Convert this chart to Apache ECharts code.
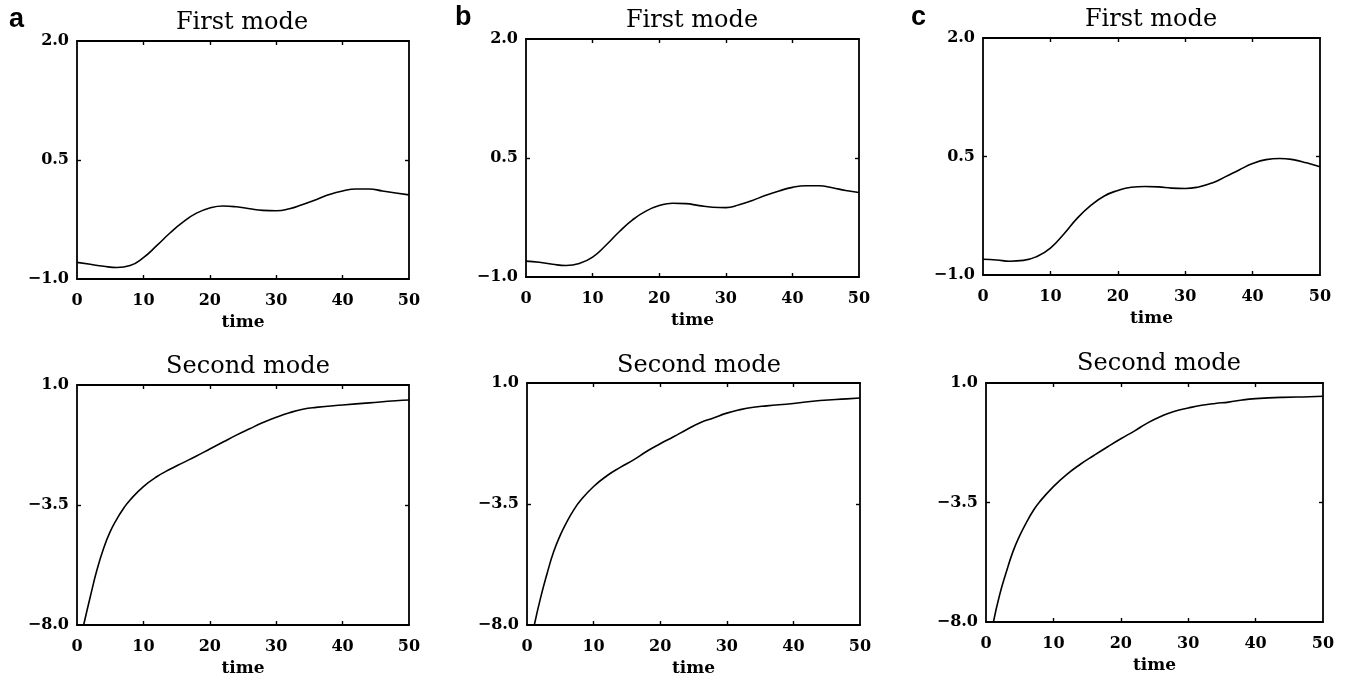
<!DOCTYPE html>
<html>
<head>
<meta charset="utf-8">
<script src="https://cdn.jsdelivr.net/npm/echarts@6/dist/echarts.min.js"></script>
<style>
html,body{margin:0;padding:0;background:#fff;}
#chart{width:1350px;height:682px;}
</style>
</head>
<body>
<div id="chart"></div>
<script>
// ---- data ----
const xTicks = [0, 10, 20, 30, 40, 50];
const firstModeTicks = [-1.0, 0.5, 2.0];
const secondModeTicks = [-8.0, -3.5, 1.0];

const tFirst = [0,2,4,6,8,10,12,14,16,18,20,22,24,26,28,30,32,34,36,38,40,42,44,46,48,50];
const firstA = [-0.79,-0.815,-0.84,-0.855,-0.83,-0.73,-0.58,-0.42,-0.28,-0.17,-0.105,-0.08,-0.09,-0.115,-0.135,-0.14,-0.115,-0.06,0.0,0.065,0.11,0.135,0.135,0.11,0.085,0.06];
const firstB = [-0.80,-0.815,-0.84,-0.855,-0.83,-0.75,-0.60,-0.43,-0.28,-0.17,-0.10,-0.07,-0.075,-0.10,-0.12,-0.125,-0.09,-0.035,0.03,0.085,0.13,0.15,0.15,0.125,0.09,0.065];
const firstC = [-0.80,-0.81,-0.825,-0.815,-0.765,-0.66,-0.48,-0.28,-0.12,0.0,0.07,0.11,0.12,0.115,0.10,0.095,0.115,0.165,0.245,0.33,0.41,0.46,0.475,0.46,0.42,0.37];

const tSecondA = [1,2,3,4,5,6,7,8,10,12,14,16,18,20,22,24,26,28,30,32,34,36,40,44,48,50];
const secondA  = [-8.0,-6.94,-5.94,-5.13,-4.5,-4.03,-3.63,-3.31,-2.81,-2.44,-2.16,-1.91,-1.66,-1.40,-1.14,-0.88,-0.64,-0.41,-0.21,-0.04,0.09,0.16,0.25,0.33,0.41,0.44];

const tSecondB = [1.1,2,3,4,5,6,7,8,10,12,14,16,18,20,22,24,26,28,30,32,34,36,40,44,48,50];
const secondB  = [-8.0,-7.03,-6.1,-5.28,-4.66,-4.16,-3.73,-3.38,-2.85,-2.45,-2.14,-1.86,-1.54,-1.26,-1.0,-0.73,-0.48,-0.30,-0.12,0.01,0.10,0.15,0.24,0.35,0.41,0.44];

const tSecondC = [1.1,2,3,4,5,6,7,8,10,12,14,16,18,20,22,24,26,28,30,32,34,36,38,40,44,48,50];
const secondC  = [-8.0,-7.0,-6.13,-5.35,-4.75,-4.25,-3.81,-3.46,-2.9,-2.44,-2.06,-1.73,-1.41,-1.1,-0.81,-0.5,-0.25,-0.06,0.06,0.16,0.23,0.28,0.36,0.41,0.46,0.48,0.50];

const panelLetters = ['a', 'b', 'c'];
const titles = ['First mode', 'Second mode'];

// ---- layout ----
const panels = [
  {grid:{left:77, top:41, width:332, height:238}, t:tFirst, v:firstA, ticks:firstModeTicks, title:titles[0], tx:242, ty:23},
  {grid:{left:77, top:385, width:332, height:240}, t:tSecondA, v:secondA, ticks:secondModeTicks, title:titles[1], tx:248, ty:367},
  {grid:{left:526, top:39, width:333, height:238}, t:tFirst, v:firstB, ticks:firstModeTicks, title:titles[0], tx:692, ty:21},
  {grid:{left:527, top:383, width:333, height:242}, t:tSecondB, v:secondB, ticks:secondModeTicks, title:titles[1], tx:699, ty:366},
  {grid:{left:983, top:38, width:337, height:237}, t:tFirst, v:firstC, ticks:firstModeTicks, title:titles[0], tx:1151, ty:20},
  {grid:{left:986, top:383, width:337, height:239}, t:tSecondC, v:secondC, ticks:secondModeTicks, title:titles[1], tx:1159, ty:364}
];

const FONT = 'DejaVu Serif';
const lineStyle = {color:'#000', width:1.8};
const tickStyle = {color:'#000', width:1.4};
const grids = [], xAxes = [], yAxes = [], series = [], graphics = [];

panels.forEach((p, i) => {
  grids.push(Object.assign({containLabel:false}, p.grid));
  const lo = p.ticks[0], hi = p.ticks[p.ticks.length - 1];
  xAxes.push({
    type:'value', gridIndex:i, position:'bottom', min:0, max:50, interval:10,
    name:'time', nameLocation:'middle', nameGap:35,
    nameTextStyle:{fontFamily:FONT, fontWeight:'bold', fontSize:17, color:'#000'},
    axisLine:{show:true, onZero:false, lineStyle:lineStyle},
    axisTick:{show:true, inside:true, length:4, lineStyle:tickStyle, customValues:xTicks.slice(1, -1)},
    axisLabel:{show:true, margin:14, fontFamily:FONT, fontWeight:'bold', fontSize:16, color:'#000', customValues:xTicks},
    splitLine:{show:false}
  });
  xAxes.push({
    type:'value', gridIndex:i, position:'top', min:0, max:50, interval:10,
    axisLine:{show:true, onZero:false, lineStyle:lineStyle},
    axisTick:{show:true, inside:true, length:4, lineStyle:tickStyle, customValues:xTicks.slice(1, -1)},
    axisLabel:{show:false}, splitLine:{show:false}
  });
  yAxes.push({
    type:'value', gridIndex:i, position:'left', min:lo, max:hi,
    axisLine:{show:true, onZero:false, lineStyle:lineStyle},
    axisTick:{show:true, inside:true, length:4, lineStyle:tickStyle, customValues:[p.ticks[1]]},
    axisLabel:{show:true, margin:8, fontFamily:FONT, fontWeight:'bold', fontSize:16, color:'#000',
      customValues:p.ticks, formatter:v => v.toFixed(1).replace('-', '\u2212')},
    splitLine:{show:false}
  });
  yAxes.push({
    type:'value', gridIndex:i, position:'right', min:lo, max:hi,
    axisLine:{show:true, onZero:false, lineStyle:lineStyle},
    axisTick:{show:true, inside:true, length:4, lineStyle:tickStyle, customValues:[p.ticks[1]]},
    axisLabel:{show:false}, splitLine:{show:false}
  });
  series.push({
    type:'line', xAxisIndex:2*i, yAxisIndex:2*i, data:p.t.map((t, k) => [t, p.v[k]]),
    showSymbol:false, smooth:0.5, clip:true, lineStyle:{color:'#000', width:1.6}, silent:true
  });
  graphics.push({
    type:'text', x:p.tx, y:p.ty,
    style:{text:p.title, fontFamily:FONT, fontSize:24, fill:'#000', textAlign:'center', textVerticalAlign:'middle'}
  });
});

const letterPos = [[9, 20], [455, 18], [911, 18]];
panelLetters.forEach((l, i) => {
  graphics.push({
    type:'text', x:letterPos[i][0], y:letterPos[i][1],
    style:{text:l, fontFamily:'Liberation Sans', fontWeight:'bold', fontSize:27, fill:'#000', textAlign:'left', textVerticalAlign:'middle'}
  });
});

const chart = echarts.init(document.getElementById('chart'));
chart.setOption({
  backgroundColor:'#fff',
  animation:false,
  grid:grids, xAxis:xAxes, yAxis:yAxes, series:series, graphic:graphics
});
</script>
</body>
</html>
